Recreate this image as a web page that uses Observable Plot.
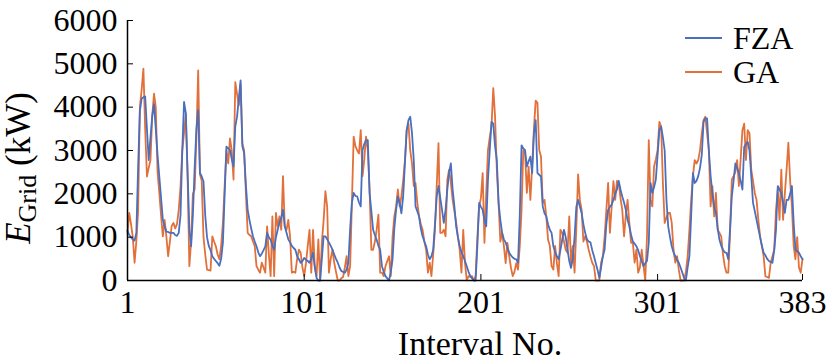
<!DOCTYPE html>
<html><head><meta charset="utf-8">
<script src="https://cdn.jsdelivr.net/npm/d3@7"></script>
<script src="https://cdn.jsdelivr.net/npm/@observablehq/plot@0.6"></script>
<style>
body{margin:0;background:#fff}
#chart{position:relative;width:829px;height:362px}
</style>
</head><body><div id="chart"></div>
<script>
const intervals = d3.range(1, 384);
const fza = [
1150,1050,990,950,920,1100,2600,3900,4200,4230,
4250,3500,2780,3300,3800,4070,3500,2900,2400,1900,
1400,1250,1130,1120,1100,1100,1100,1050,1030,1100,
1500,3000,4120,3860,2500,1200,790,1500,2600,3500,
3930,2480,2400,2290,1500,1000,800,700,560,500,
450,400,340,500,880,2000,3090,3050,3010,2800,
2630,3550,3780,4200,4620,3100,2940,2200,1630,1400,
1200,1020,900,790,650,560,620,700,790,1100,
1000,940,800,710,1000,1170,1330,1450,1630,1250,
1100,950,880,800,750,710,560,490,410,450,
520,480,450,410,500,640,300,60,0,0,
500,1020,1020,950,880,800,710,600,500,410,
300,220,200,180,250,410,1200,1800,2020,1950,
1940,1800,1710,3010,3150,3240,3240,2020,1600,1170,
1050,940,800,710,330,200,100,50,0,200,
490,1200,1630,1940,1790,1550,1940,2700,3470,3700,
3780,3400,2780,1710,1600,1480,1200,1020,900,790,
600,490,560,710,1300,1940,2180,1900,1630,1330,
1630,2100,2490,2700,2100,1710,1250,1000,790,650,
560,450,330,200,100,50,0,0,800,1790,
1700,1630,1400,1250,2330,3000,3660,3620,3100,2780,
1790,1400,1100,950,880,750,640,580,530,500,
490,410,1500,3120,3050,3010,2630,2750,2860,2480,
3390,3700,2480,2440,2400,1710,1550,1480,1300,1170,
1100,790,650,560,490,700,940,1170,1000,710,
450,290,500,1000,1700,1860,1710,1560,1300,1100,
950,900,880,700,560,400,250,60,300,550,
710,1300,1630,1700,1750,1860,2000,2100,2300,2100,
1940,1800,1630,1400,1250,1050,900,850,790,700,
560,450,330,400,450,870,2250,2020,2150,2330,
2900,3470,3550,3300,3000,1860,1250,1000,790,650,
560,480,410,300,180,60,0,300,560,1500,
2480,2250,2300,2410,2600,2900,3660,3740,3740,3000,
2410,2020,1700,1560,1200,940,800,710,650,640,
490,1200,1940,2300,2700,2600,2480,2300,2100,3080,
3150,3200,3000,2410,1790,1600,1400,1200,1000,800,
640,580,500,450,430,410,700,1170,2180,2100,
2020,1800,1560,1860,1860,2000,2180,1330,710,680,
640,560,490
];
const ga = [
1100,1560,1300,1000,410,900,1600,4010,4400,4890,
3500,2400,2600,2780,3800,4310,4000,2500,2020,1500,
1020,1400,1020,560,900,1260,1330,1200,1300,1630,
2170,3000,3400,3850,2400,330,900,2000,2100,3300,
4850,2450,2300,1000,600,250,240,230,1020,900,
790,600,490,800,1330,2200,3010,2700,3280,3000,
2330,4580,4300,4040,4540,3160,3000,2020,1100,1050,
1020,900,800,330,250,180,410,300,180,1250,
600,100,1480,100,1560,1250,1480,1170,2410,1250,
1170,1400,1020,180,200,180,500,710,640,300,
100,400,800,1170,180,1170,330,100,950,0,
880,1400,2060,1700,180,500,710,410,200,0,
0,50,80,300,560,100,330,1800,3320,3100,
3000,2930,3470,2410,2800,3320,3010,2100,710,710,
900,1170,1520,180,180,100,330,450,560,100,
1000,1480,1710,2100,1710,1940,2300,2780,3470,3620,
3010,2700,2180,2250,1800,1480,1300,1170,900,710,
180,410,100,600,1170,2200,3170,1100,1100,1170,
1020,2330,2560,2250,1860,1600,1330,1000,710,180,
1170,400,0,100,80,100,0,100,1000,1710,
1900,2480,870,2000,3010,3300,3560,4440,3790,2560,
1790,900,1100,800,400,870,560,300,100,200,
400,250,790,1630,3010,2930,2020,2630,1860,2630,
3500,4150,4100,3010,2860,1790,1860,1480,940,800,
330,250,800,400,100,1170,1100,900,710,640,
1480,410,800,180,1200,2450,1860,1630,900,1020,
900,710,550,410,330,0,0,0,410,560,
1000,1630,2250,1100,1700,2290,1860,2300,2250,1900,
1630,1020,1500,1860,1330,870,870,410,710,180,
300,710,350,0,1020,3240,1860,1710,2630,2800,
3010,3660,3550,2250,1330,1450,1560,1560,1330,710,
410,560,250,0,0,0,200,560,1170,1860,
2410,2780,2700,2780,3010,3390,3700,3780,3400,3010,
1710,2180,1480,2020,1170,1100,1020,600,330,180,
180,1100,2330,2410,2500,2780,2180,2800,3470,3620,
2780,3470,3400,2560,2300,2020,1860,1400,1020,800,
560,100,80,60,410,560,710,1630,2100,1400,
2560,1400,2000,2560,3180,2300,1710,800,490,1000,
300,180,500
];
const seriesNames = ["FZA", "GA"];
const seriesColors = ["#4a6fbf", "#e2703a"];
const xTicks = [1, 101, 201, 301, 383];
const yTicks = [0, 1000, 2000, 3000, 4000, 5000, 6000];
const xLabel = "Interval No.";

const rows = [];
intervals.forEach((t, k) => {
  rows.push({t, v: ga[k], s: "GA"});
});
intervals.forEach((t, k) => {
  rows.push({t, v: fza[k], s: "FZA"});
});

const font = "'Liberation Serif','Times New Roman',serif";
const plot = Plot.plot({
  width: 829, height: 362,
  marginLeft: 127, marginRight: 27, marginTop: 20, marginBottom: 82,
  style: {fontFamily: font, fontSize: "32px", color: "#000", background: "#fff", overflow: "visible"},
  x: {domain: [1, 383]},
  y: {domain: [0, 6000]},
  color: {domain: seriesNames, range: seriesColors},
  marks: [
    Plot.line(rows.filter(d => d.s === "GA"), {x: "t", y: "v", stroke: "s", strokeWidth: 1.8}),
    Plot.line(rows.filter(d => d.s === "FZA"), {x: "t", y: "v", stroke: "s", strokeWidth: 1.8}),
    Plot.ruleX([1], {stroke: "#000", strokeWidth: 1.5}),
    Plot.ruleY([0], {stroke: "#000", strokeWidth: 1.5}),
    Plot.axisY({ticks: yTicks, tickSize: -6, text: null, label: null}),
    Plot.axisY({ticks: yTicks, tickSize: 0, tickPadding: 10, tickFormat: d => String(d), label: null}),
    Plot.axisX({ticks: xTicks.slice(1), tickSize: -6, text: null, label: null}),
    Plot.axisX({ticks: xTicks, tickSize: 0, tickPadding: 10, tickFormat: d => String(d), label: null}),
    Plot.text([xLabel], {frameAnchor: "bottom", dx: 15, dy: 74, lineAnchor: "bottom", fontSize: 34, text: d => d})
  ]
});
document.getElementById("chart").appendChild(plot);

const svg = d3.select(plot);
// y-axis label with subscript
const yl = svg.append("text")
  .attr("transform", "translate(30,168) rotate(-90)")
  .attr("text-anchor", "middle")
  .attr("font-family", font)
  .attr("font-size", 35)
  .attr("fill", "#000");
yl.append("tspan").attr("font-style", "italic").text("E");
yl.append("tspan").attr("font-size", 26).attr("dy", 6).text("Grid");
yl.append("tspan").attr("dy", -6).text(" (kW)");

// legend
const lg = svg.append("g").attr("font-family", font).attr("font-size", 32).attr("text-anchor", "start");
seriesNames.forEach((name, k) => {
  const y = 38 + k * 34;
  lg.append("line").attr("x1", 685).attr("x2", 722).attr("y1", y).attr("y2", y)
    .attr("stroke", seriesColors[k]).attr("stroke-width", 1.8);
  lg.append("text").attr("x", 733).attr("y", y).attr("dy", "0.35em").attr("fill", "#000").text(name);
});
</script>
</body></html>
